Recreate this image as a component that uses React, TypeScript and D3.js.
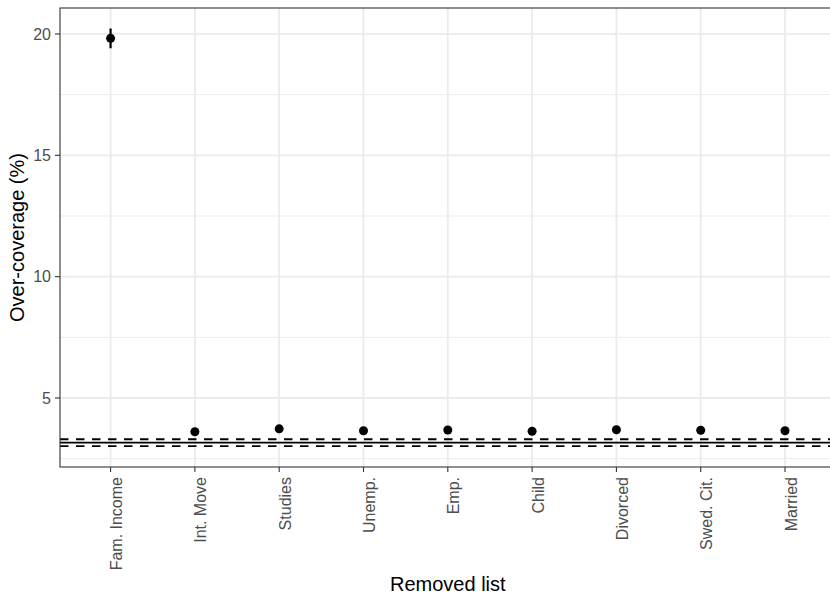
import React from "react";
import * as d3 from "d3";

const lists = ["Fam. Income", "Int. Move", "Studies", "Unemp.", "Emp.", "Child", "Divorced", "Swed. Cit.", "Married"];
const estimate = [19.82, 3.61, 3.73, 3.65, 3.68, 3.63, 3.69, 3.67, 3.65];
const lower = [19.41, 3.55, 3.67, 3.59, 3.62, 3.57, 3.63, 3.61, 3.59];
const upper = [20.23, 3.67, 3.79, 3.71, 3.74, 3.69, 3.75, 3.73, 3.71];
const fullModel = 3.16;
const fullModelCI = [3.02, 3.3];
const yTicks = [5, 10, 15, 20];
const yMinor = [2.5, 7.5, 12.5, 17.5];

const W = 830;
const H = 596;
const panel = { left: 60, top: 8, right: 835.6, bottom: 467 };
const font = "'Liberation Sans', Arial, Helvetica, sans-serif";

export default function App() {
  const x = d3
    .scalePoint<string>()
    .domain(lists)
    .range([panel.left, panel.right])
    .padding(0.6);
  const y = d3.scaleLinear().domain([2.157, 21.07]).range([panel.bottom, panel.top]);

  const grid = "#ebebeb";

  return (
    <div>
      <style>{"body{margin:0}"}</style>
      <svg width={W} height={H} style={{ display: "block", background: "#fff" }}>
        <defs>
          <clipPath id="panel-clip">
            <rect x={panel.left} y={panel.top} width={panel.right - panel.left} height={panel.bottom - panel.top} />
          </clipPath>
        </defs>
        <rect x={panel.left} y={panel.top} width={panel.right - panel.left} height={panel.bottom - panel.top} fill="#fff" />
        <g clipPath="url(#panel-clip)">
          {/* minor grid */}
          {yMinor.map((v) => (
            <line key={"mn" + v} x1={panel.left} x2={panel.right} y1={y(v)} y2={y(v)} stroke={grid} strokeWidth={1} />
          ))}
          {/* major grid */}
          {yTicks.map((v) => (
            <line key={"mj" + v} x1={panel.left} x2={panel.right} y1={y(v)} y2={y(v)} stroke={grid} strokeWidth={1.8} />
          ))}
          {lists.map((d) => (
            <line key={"gx" + d} x1={x(d)} x2={x(d)} y1={panel.top} y2={panel.bottom} stroke={grid} strokeWidth={1.8} />
          ))}
          {/* reference lines */}
          <line x1={panel.left} x2={panel.right} y1={y(fullModel)} y2={y(fullModel)} stroke="#000" strokeWidth={1.8} />
          {fullModelCI.map((v, i) => (
            <line
              key={"ci" + i}
              x1={panel.left}
              x2={panel.right}
              y1={y(v)}
              y2={y(v)}
              stroke="#000"
              strokeWidth={1.8}
              strokeDasharray="8.5,7.5"
            />
          ))}
          {/* error bars and points */}
          {lists.map((d, i) => (
            <g key={"p" + d}>
              <line x1={x(d)} x2={x(d)} y1={y(lower[i])} y2={y(upper[i])} stroke="#000" strokeWidth={2.2} />
              <circle cx={x(d)} cy={y(estimate[i])} r={4.5} fill="#000" />
            </g>
          ))}
        </g>
        <rect
          x={panel.left}
          y={panel.top}
          width={panel.right - panel.left}
          height={panel.bottom - panel.top}
          fill="none"
          stroke="#333"
          strokeWidth={1.1}
        />
        {/* y axis */}
        {yTicks.map((v) => (
          <g key={"yt" + v}>
            <line x1={panel.left - 5} x2={panel.left} y1={y(v)} y2={y(v)} stroke="#333" strokeWidth={1.1} />
            <text
              x={panel.left - 9}
              y={y(v)}
              dy="0.36em"
              textAnchor="end"
              fontFamily={font}
              fontSize={16}
              fill="#4d4d4d"
            >
              {v}
            </text>
          </g>
        ))}
        {/* x axis */}
        {lists.map((d) => (
          <g key={"xt" + d}>
            <line x1={x(d)} x2={x(d)} y1={panel.bottom} y2={panel.bottom + 5} stroke="#333" strokeWidth={1.1} />
            <text
              transform={`translate(${(x(d) as number) + 11.5},${panel.bottom + 10}) rotate(-90)`}
              textAnchor="end"
              fontFamily={font}
              fontSize={16}
              fill="#4d4d4d"
            >
              {d}
            </text>
          </g>
        ))}
        <text
          x={(panel.left + panel.right) / 2}
          y={591}
          textAnchor="middle"
          fontFamily={font}
          fontSize={20}
          fill="#000"
        >
          Removed list
        </text>
        <text
          transform={`translate(24,${(panel.top + panel.bottom) / 2}) rotate(-90)`}
          textAnchor="middle"
          fontFamily={font}
          fontSize={20}
          fill="#000"
        >
          Over-coverage (%)
        </text>
      </svg>
    </div>
  );
}
